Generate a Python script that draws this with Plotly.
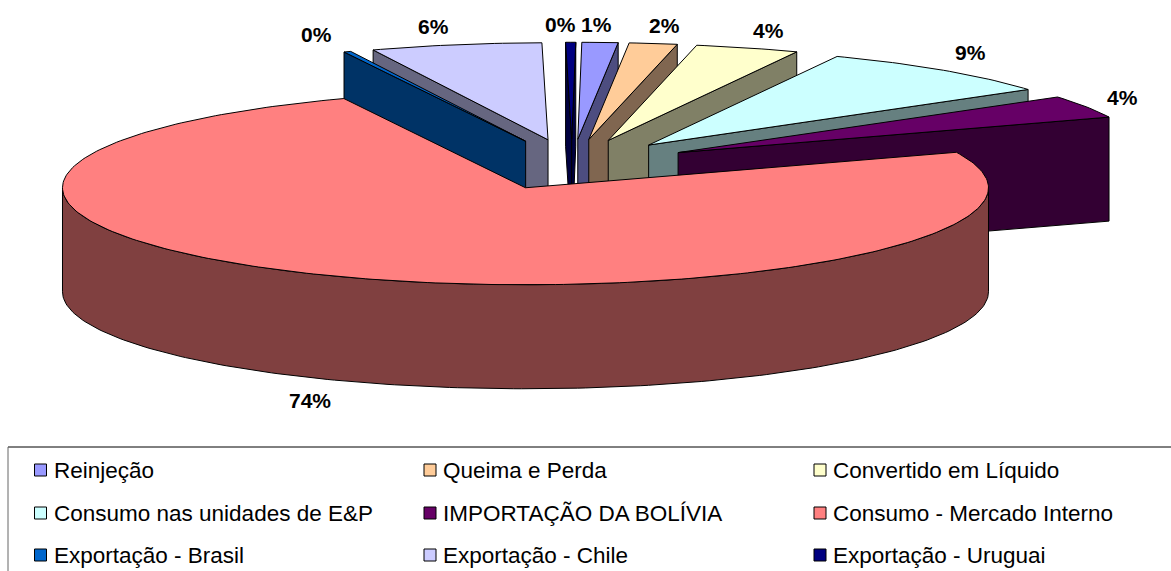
import math
import plotly.graph_objects as go

# Data
categories = ["Reinjeção", "Queima e Perda", "Convertido em Líquido",
              "Consumo nas unidades de E&P", "IMPORTAÇÃO DA BOLÍVIA", "Consumo - Mercado Interno",
              "Exportação - Brasil", "Exportação - Chile", "Exportação - Uruguai"]
values = [1.25, 1.67, 3.61, 8.61, 3.75, 74.49, 0.25, 5.95, 0.35]
top_colors = ["#9999FF", "#FFCC99", "#FFFFCC", "#CCFFFF", "#660066", "#FF8080", "#0066CC", "#CCCCFF", "#000080"]
side_colors = ["#4D4D80", "#806650", "#808066", "#668080", "#330033", "#804040", "#003366", "#666680", "#000040"]
label_x = [596, 664, 768, 970, 1122, 310, 316, 433, 560]
label_y = [24, 25, 30, 52, 97, 400, 34, 26, 24]

# Projection of the tilted, exploded pie (pixel-sized axes)
W, H = 1171, 571
CX, CY, RX, RY, DEPTH, EXPLODE = 572, 164.5, 463, 97, 104, 0.26
START = 0.5
LINE = dict(color="#000000", width=1)

total = sum(values)
spans = []
a = START
for v in values:
    b = a + 360 * v / total
    spans.append((a, b))
    a = b


def pt(c, t, dz=0):
    r = math.radians(t)
    return c[0] + RX * math.sin(r), c[1] - RY * math.cos(r) + dz


def arc(c, t0, t1, dz=0):
    n = max(2, int(abs(t1 - t0)) + 2)
    return [pt(c, t0 + (t1 - t0) * i / (n - 1), dz) for i in range(n)]


fig = go.Figure()


def poly(points, color):
    xs = [p[0] for p in points] + [points[0][0]]
    ys = [p[1] for p in points] + [points[0][1]]
    fig.add_trace(go.Scatter(x=xs, y=ys, mode="lines", fill="toself", fillcolor=color,
                             line=LINE, hoverinfo="skip", showlegend=False))


def mid(s):
    return (s[0] + s[1]) / 2


order = sorted(range(len(values)), key=lambda i: -math.cos(math.radians(mid(spans[i]))))
for i in order:
    t0, t1 = spans[i]
    m = math.radians(mid(spans[i]))
    c = (CX + EXPLODE * RX * math.sin(m), CY - EXPLODE * RY * math.cos(m))
    if math.sin(math.radians(t0)) < 0:
        e = pt(c, t0)
        poly([c, e, (e[0], e[1] + DEPTH), (c[0], c[1] + DEPTH)], side_colors[i])
    if math.sin(math.radians(t1)) > 0:
        e = pt(c, t1)
        poly([c, e, (e[0], e[1] + DEPTH), (c[0], c[1] + DEPTH)], side_colors[i])
    w0, w1 = max(t0, 90), min(t1, 270)
    if w1 > w0:
        poly(arc(c, w0, w1) + arc(c, w1, w0, DEPTH), side_colors[i])
    poly([c] + arc(c, t0, t1), top_colors[i])

# Percent labels
annotations = []
for v, x, y in zip(values, label_x, label_y):
    annotations.append(dict(x=x, y=y, text=f"<b>{round(v)}%</b>", showarrow=False,
                            xanchor="center", yanchor="middle",
                            font=dict(family="Liberation Sans", size=21, color="#000000")))

# Legend box, swatches and text
col_x = [40.5, 430, 820]
row_y = [470, 513, 555]
sw_x, sw_y = [], []
for k, name in enumerate(categories):
    x, y = col_x[k % 3], row_y[k // 3]
    sw_x.append(x)
    sw_y.append(y)
    annotations.append(dict(x=x + 11, y=y, text=name, showarrow=False, xanchor="left", yanchor="middle",
                            font=dict(family="Liberation Sans", size=22.5, color="#000000")))
fig.add_trace(go.Scatter(x=sw_x, y=sw_y, mode="markers", hoverinfo="skip", showlegend=False,
                         marker=dict(symbol="square", size=12, color=top_colors,
                                     line=dict(color="#000000", width=1))))

fig.update_layout(
    width=W, height=H, autosize=False,
    margin=dict(l=0, r=0, t=0, b=0),
    paper_bgcolor="#FFFFFF", plot_bgcolor="#FFFFFF",
    xaxis=dict(range=[0, W], visible=False, fixedrange=True),
    yaxis=dict(range=[H, 0], visible=False, fixedrange=True),
    annotations=annotations,
    shapes=[
        dict(type="line", xref="x", yref="y", x0=8, x1=W, y0=447, y1=447, line=dict(color="#000000", width=1)),
        dict(type="line", xref="x", yref="y", x0=8, x1=8, y0=447, y1=H, line=dict(color="#666666", width=1)),
    ],
)
fig.write_html("out.html", config=dict(displayModeBar=False),
               post_script="document.body.style.margin='0';document.body.style.overflow='hidden';")
